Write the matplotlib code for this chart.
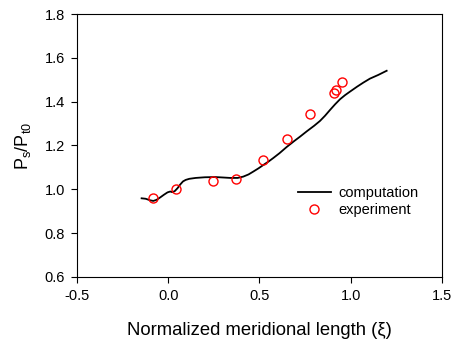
import matplotlib
matplotlib.use("Agg")
from matplotlib import pyplot as plt

plt.rcParams['font.family'] = ['Liberation Sans', 'DejaVu Sans']
plt.rcParams['mathtext.fontset'] = 'custom'
plt.rcParams['mathtext.rm'] = 'Liberation Sans'

# computation curve
comp_x = [-0.147, -0.125, -0.100, -0.083, -0.065, -0.045, -0.025, -0.005, 0.010,
          0.022, 0.035, 0.050, 0.065, 0.080, 0.095, 0.115, 0.150, 0.200, 0.256,
          0.300, 0.340, 0.380, 0.411, 0.440, 0.466, 0.495, 0.521, 0.550, 0.576,
          0.610, 0.649, 0.690, 0.722, 0.760, 0.800, 0.832, 0.860, 0.887, 0.915,
          0.942, 0.970, 0.997, 1.035, 1.070, 1.106, 1.152, 1.198]
comp_y = [0.959, 0.957, 0.950, 0.947, 0.952, 0.963, 0.975, 0.986, 0.990,
          0.987, 0.992, 1.005, 1.022, 1.036, 1.043, 1.048, 1.052, 1.055, 1.056,
          1.054, 1.052, 1.052, 1.058, 1.068, 1.081, 1.096, 1.111, 1.127, 1.143,
          1.165, 1.193, 1.220, 1.240, 1.265, 1.290, 1.312, 1.336, 1.362, 1.388,
          1.411, 1.430, 1.446, 1.468, 1.487, 1.505, 1.522, 1.541]

# experiment points
exp_x = [-0.083, 0.040, 0.243, 0.371, 0.521, 0.649, 0.775, 0.911, 0.918, 0.951]
exp_y = [0.962, 1.002, 1.040, 1.047, 1.132, 1.230, 1.344, 1.438, 1.452, 1.491]

fig = plt.figure(figsize=(4.56, 3.44), dpi=100)
ax = fig.add_axes([0.1695, 0.1948, 0.7991, 0.7645])

ax.plot(comp_x, comp_y, color='black', lw=1.3, label='computation')
ax.plot(exp_x, exp_y, ls='none', marker='o', ms=6.5, mfc='none', mec='red',
        mew=1.0, label='experiment')

ax.set_xlim(-0.5, 1.5)
ax.set_ylim(0.6, 1.8)
ax.set_xticks([-0.5, 0.0, 0.5, 1.0, 1.5])
ax.set_yticks([0.6, 0.8, 1.0, 1.2, 1.4, 1.6, 1.8])
ax.set_xticklabels(['-0.5', '0.0', '0.5', '1.0', '1.5'])
ax.set_yticklabels(['0.6', '0.8', '1.0', '1.2', '1.4', '1.6', '1.8'])
ax.tick_params(direction='out', length=4, width=0.8, labelsize=10.5, pad=5,
               top=False, right=False)
for s in ax.spines.values():
    s.set_linewidth(0.8)

ax.set_xlabel('Normalized meridional length (\u03be)', fontsize=13.3, labelpad=13)
ax.set_ylabel(r'P$_\mathregular{s}$/P$_\mathregular{t0}$', fontsize=13, labelpad=8)

ax.legend(loc='upper left', bbox_to_anchor=(0.569, 0.397), frameon=False,
          fontsize=10.5, handlelength=2.25, handletextpad=0.55, labelspacing=0.25)

fig.savefig('out.png', dpi=100)
